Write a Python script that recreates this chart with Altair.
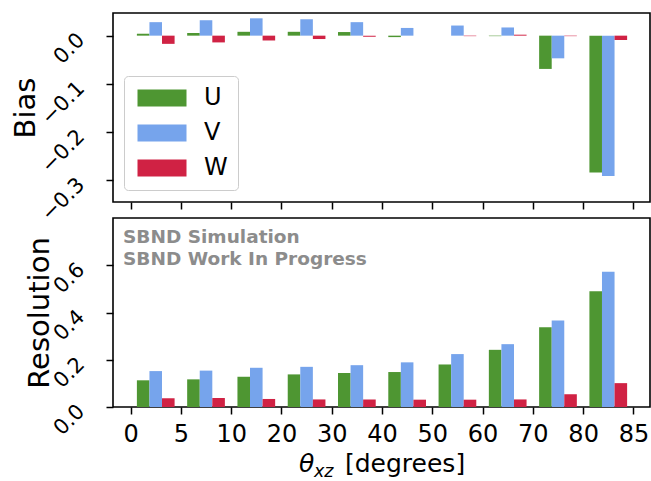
import json
import altair as alt
import pandas as pd

# ---- data ----
edges = ["0", "5", "10", "20", "30", "40", "50", "60", "70", "80", "85"]
series = ["U", "V", "W"]
colors = ["#4e9632", "#76a4ec", "#d02244"]

bias_U = [0.004, 0.0055, 0.008, 0.008, 0.0075, -0.003, 0.0, -0.001, -0.069, -0.284]
bias_V = [0.028, 0.032, 0.036, 0.034, 0.028, 0.016, 0.021, 0.017, -0.047, -0.291]
bias_W = [-0.017, -0.014, -0.010, -0.007, -0.002, 0.0, -0.001, 0.002, -0.001, -0.009]

res_U = [0.113, 0.117, 0.128, 0.138, 0.144, 0.148, 0.180, 0.242, 0.338, 0.490]
res_V = [0.152, 0.154, 0.166, 0.170, 0.177, 0.189, 0.224, 0.266, 0.366, 0.573]
res_W = [0.037, 0.038, 0.034, 0.032, 0.032, 0.031, 0.031, 0.032, 0.054, 0.101]

BAR_W = 0.25


def make_table(vals):
    rows = []
    for k, (name, arr) in enumerate(zip(series, vals)):
        for i, v in enumerate(arr):
            x0 = i + 0.125 + BAR_W * k
            rows.append({"series": name, "x0": x0, "x1": x0 + BAR_W, "value": v})
    return pd.DataFrame(rows)


bias_df = make_table([bias_U, bias_V, bias_W])
res_df = make_table([res_U, res_V, res_W])

FONT = "DejaVu Sans"
W, H = 537, 189
xdomain = [-0.35, 10.33]
label_expr = json.dumps(edges) + "[datum.value]"

color_scale = alt.Scale(domain=series, range=colors)


def y_axis(title, values, title_x):
    return alt.Axis(
        title=title, values=values, format=".1f", labelAngle=-45,
        labelAlign="right", labelBaseline="middle", labelFontSize=21,
        labelPadding=25, labelOffset=1, labelFont=FONT, labelColor="black",
        labelOverlap=False, labelBound=False, labelFlush=False,
        tickSize=7, tickWidth=1.5, tickColor="black", domain=False, grid=False,
        titleFontSize=29, titleFont=FONT, titleFontWeight="normal",
        titleAngle=270, titleX=title_x, titleY=H / 2, titleAlign="center",
        titleBaseline="alphabetic", titleColor="black",
    )


top = alt.Chart(bias_df).mark_rect().encode(
    x=alt.X("x0:Q", scale=alt.Scale(domain=xdomain, nice=False, zero=False),
            axis=alt.Axis(values=list(range(11)), labels=False, title=None,
                          tickSize=7, tickWidth=1.5, tickColor="black",
                          domain=False, grid=False)),
    x2="x1:Q",
    y=alt.Y("value:Q", scale=alt.Scale(domain=[-0.345, 0.047], nice=False, zero=False),
            axis=y_axis("Bias", [-0.3, -0.2, -0.1, 0.0], -79)),
    y2=alt.datum(0),
    color=alt.Color("series:N", scale=color_scale, sort=series,
                    legend=alt.Legend(
                        title=None, orient="none", legendX=11, legendY=63,
                        symbolType="M-1,-1L4.765,-1L4.765,1L-1,1Z",
                        symbolSize=289, symbolStrokeWidth=0, labelFontSize=24,
                        labelFont=FONT, labelColor="black", labelOffset=46,
                        rowPadding=11, padding=10, fillColor="white",
                        strokeColor="#cccccc", cornerRadius=4)),
).properties(width=W, height=H)

bars_bottom = alt.Chart(res_df).mark_rect().encode(
    x=alt.X("x0:Q", scale=alt.Scale(domain=xdomain, nice=False, zero=False),
            axis=alt.Axis(values=list(range(11)), labelExpr=label_expr, title=None,
                          labelFontSize=24, labelFont=FONT, labelColor="black",
                          labelPadding=8, labelAngle=0, labelOverlap=False,
                          labelFlush=False,
                          tickSize=7, tickWidth=1.5, tickColor="black",
                          domain=False, grid=False)),
    x2="x1:Q",
    y=alt.Y("value:Q", scale=alt.Scale(domain=[0, 0.8], nice=False),
            axis=y_axis("Resolution", [0.0, 0.2, 0.4, 0.6], -65)),
    y2=alt.datum(0),
    color=alt.Color("series:N", scale=color_scale, sort=series, legend=None),
)

one = pd.DataFrame({"t": [""]})


def label(text, x, y, size, weight="normal", style="normal", color="black"):
    return alt.Chart(one).mark_text(
        text=text, align="left", baseline="alphabetic", font=FONT, fontSize=size,
        fontWeight=weight, fontStyle=style, color=color,
    ).encode(x=alt.value(x), y=alt.value(y))


notes = (
    label("SBND Simulation", 10, 25, 18.5, weight="bold", color="#8c8c8c")
    + label("SBND Work In Progress", 10, 47, 18.5, weight="bold", color="#8c8c8c")
    + label("θ", 186, 254, 25, style="italic")
    + label("xz", 201, 259, 17.5, style="italic")
    + label("[degrees]", 232, 254, 25)
)

bottom = alt.layer(bars_bottom, notes).properties(width=W, height=H)

chart = alt.vconcat(top, bottom, spacing=16, bounds="flush").resolve_scale(
    color="independent"
).properties(
    padding={"left": 10, "top": 12, "right": 0, "bottom": 0},
    background="white",
).configure_view(
    stroke="black", strokeWidth=1.6
)

chart.save("out.html", embed_options={"renderer": "svg", "actions": False})
